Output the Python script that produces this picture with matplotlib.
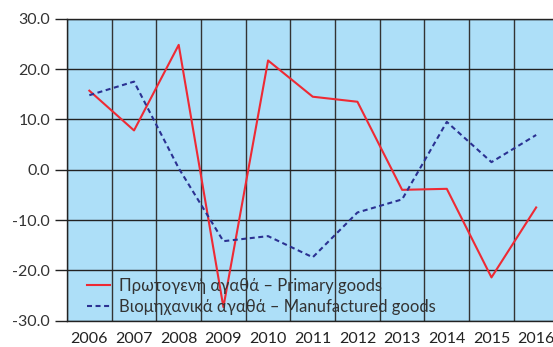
import numpy as np
import matplotlib
matplotlib.use("Agg")
import matplotlib.pyplot as plt
from matplotlib.ticker import FormatStrFormatter

plt.rcParams['font.family'] = ['Lato', 'DejaVu Sans']
plt.rcParams['axes.unicode_minus'] = False

years = ['2006', '2007', '2008', '2009', '2010', '2011',
         '2012', '2013', '2014', '2015', '2016']
primary = [15.7, 7.8, 24.8, -27.3, 21.7, 14.5, 13.5, -4.0, -3.8, -21.4, -7.5]
manufactured = [14.8, 17.5, 0.3, -14.2, -13.2, -17.4, -8.5, -5.9, 9.5, 1.5, 6.9]
labels = ['Πρωτογενή αγαθά – Primary goods',
          'Βιομηχανικά αγαθά – Manufactured goods']

W, H = 553, 347
fig = plt.figure(figsize=(W / 100, H / 100), dpi=100)
# plot area runs a little past the right edge of the figure
ax_w = 558.5 - 67
ax_h = 320.7 - 18.7
ax = fig.add_axes([67 / W, (H - 320.7) / H, ax_w / W, ax_h / H])
ax.set_facecolor('#addff8')

x = np.arange(len(years))
ax.plot(x, primary, color='#ee2a34', lw=1.5, label=labels[0])
ax.plot(x, manufactured, color='#2b3192', lw=1.5, ls=(0, (2.4, 1.7)), label=labels[1])

ax.set_xlim(-0.5, len(years) - 0.5)
ax.set_ylim(-30, 30)
ax.set_yticks(np.arange(-30, 31, 10))
ax.yaxis.set_major_formatter(FormatStrFormatter('%.1f'))
ax.set_xticks(x)
ax.set_xticklabels(years)
ax.set_xticks(np.arange(-0.5, len(years), 1), minor=True)

ax.grid(True, axis='y', which='major', color='#222222', lw=1.0)
ax.grid(True, axis='x', which='minor', color='#333333', lw=1.0)
ax.set_axisbelow(True)

ax.tick_params(axis='y', length=8.6, width=1, color='#222222', labelsize=11.5,
               labelcolor='#333333', pad=3.5)
ax.tick_params(axis='x', which='both', length=0, labelsize=11.5,
               labelcolor='#222222', pad=8)
for s in ax.spines.values():
    s.set_color('#222222')
    s.set_linewidth(1.0)

ax.legend(loc='lower left', bbox_to_anchor=(20 / ax_w, 6 / ax_h), frameon=False,
          fontsize=12, handlelength=1.4, handletextpad=0.5, labelspacing=0.3,
          borderpad=0, borderaxespad=0, labelcolor='#333333')

fig.savefig('out.png', dpi=100)
